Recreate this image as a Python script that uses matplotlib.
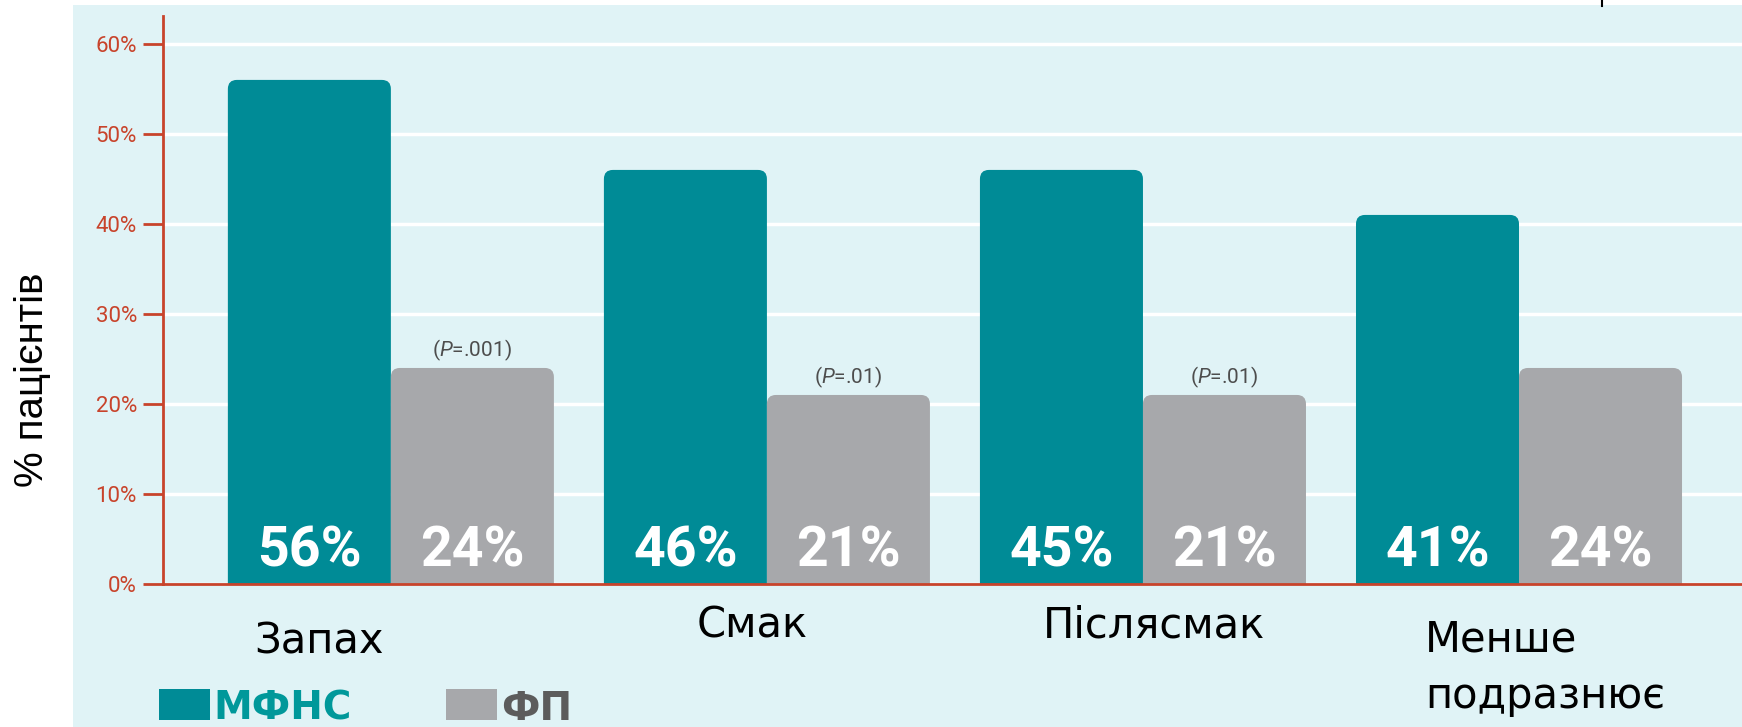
import matplotlib
matplotlib.use('Agg')
import matplotlib.pyplot as plt
from matplotlib.patches import FancyBboxPatch, Rectangle
from matplotlib.lines import Line2D
from matplotlib.transforms import blended_transform_factory
import numpy as np

plt.rcParams['mathtext.fontset'] = 'custom'
plt.rcParams['mathtext.rm'] = 'Roboto'
plt.rcParams['mathtext.it'] = 'Roboto:italic'

# data
categories = ["Запах", "Смак", "Післясмак", "Менше\nподразнює"]
mfns_vals = [56, 46, 46, 41]          # bar heights as drawn
fp_vals = [24, 21, 21, 24]
mfns_labels = ["56%", "46%", "45%", "41%"]   # printed values
fp_labels = ["24%", "21%", "21%", "24%"]
p_values = ["(P=.001)", "(P=.01)", "(P=.01)", None]
yticks = [0, 10, 20, 30, 40, 50, 60]
series_names = ["МФНС", "ФП"]

# colours
TEAL = '#008b96'
GRAY = '#a7a8ab'
BG = '#e0f3f6'
RED = '#c8432b'

W, H = 1742, 727
fig = plt.figure(figsize=(W / 100, H / 100), dpi=100, facecolor='white')

# light blue panel behind the chart
fig.patches.append(Rectangle((73 / W, 0), 1 - 73 / W, 1 - 5 / H, transform=fig.transFigure,
                             facecolor=BG, edgecolor='none', zorder=-1))
fig.add_artist(Line2D([1602 / W, 1602 / W], [1, 1 - 6 / H], transform=fig.transFigure,
                      color='black', lw=1.5))

ax = fig.add_axes([163 / W, (H - 584) / H, (W - 163) / W, 568 / H])
ax.set_facecolor('none')

x = np.arange(len(categories))
w = 163 / 376
b1 = ax.bar(x - w, mfns_vals, width=w, align='edge', color=TEAL)
b2 = ax.bar(x, fp_vals, width=w, align='edge', color=GRAY)

# swap the plain bars for ones with rounded tops
rad_x, rad_y = 9 / 376, 1.0
for rect in list(b1) + list(b2):
    rect.set_visible(False)
    rb = FancyBboxPatch((rect.get_x(), rect.get_y() - 2), rect.get_width(), rect.get_height() + 2,
                        boxstyle=f"round,pad=0,rounding_size={rad_x}",
                        mutation_aspect=rad_y / rad_x,
                        facecolor=rect.get_facecolor(), edgecolor='none', zorder=2)
    ax.add_patch(rb)

ax.set_xlim(-0.606, 3.593)
ax.set_ylim(0, 63.1)
ax.set_xticks([])
ax.set_yticks(yticks)
ax.set_yticklabels([f"{t}%" for t in yticks], family='Roboto')
ax.tick_params(axis='y', direction='out', length=14.4, width=2, color=RED,
               labelcolor=RED, labelsize=16, pad=4.3)
ax.yaxis.grid(True, color='white', lw=2.5)
ax.set_axisbelow(True)
for s in ['top', 'right']:
    ax.spines[s].set_visible(False)
for s in ['left', 'bottom']:
    ax.spines[s].set_color(RED)
    ax.spines[s].set_linewidth(2)

trans = blended_transform_factory(ax.transData, ax.transAxes)

# values inside bars
for i in range(len(categories)):
    ax.text(i - w / 2, 0.030, mfns_labels[i], transform=trans, ha='center', va='baseline',
            color='white', fontsize=40, fontweight='bold', family='Roboto', zorder=3)
    ax.text(i + w / 2, 0.030, fp_labels[i], transform=trans, ha='center', va='baseline',
            color='white', fontsize=40, fontweight='bold', family='Roboto', zorder=3)
    if p_values[i]:
        txt = p_values[i].replace("P", r"$\mathit{P}$")
        ax.text(i + w / 2, fp_vals[i] + 2.0, txt, ha='center', va='center',
                color='#4d4d4d', fontsize=15, family='Roboto', zorder=3)

# category labels (hand placed like the original)
label_dx = [-0.19, -0.04, 0.03, -0.25]
label_ha = ['center', 'center', 'center', 'left']
label_base = [653, 638, 638, 652]
for i, cat in enumerate(categories):
    for k, line in enumerate(cat.split("\n")):
        yb = (584 - (label_base[i] + 56 * k)) / 568
        ax.text(i + label_dx[i], yb, line, transform=trans, ha=label_ha[i], va='baseline',
                fontsize=30, family='DejaVu Sans', color='black', clip_on=False)

# y label
fig.text(32 / W, 1 - 380 / H, "% пацієнтів", rotation=90, ha='center', va='center',
         fontsize=29, family='Liberation Sans', color='black')

# legend
fig.patches.append(Rectangle((159 / W, 1 - 720 / H), 51 / W, 31 / H, transform=fig.transFigure,
                             facecolor=TEAL, edgecolor='none'))
fig.text(213 / W, 1 - 720 / H, series_names[0], ha='left', va='baseline', fontsize=28,
         fontweight='bold', family='DejaVu Sans', color='#00989a')
fig.patches.append(Rectangle((446 / W, 1 - 720 / H), 51 / W, 31 / H, transform=fig.transFigure,
                             facecolor=GRAY, edgecolor='none'))
fig.text(501 / W, 1 - 720 / H, series_names[1], ha='left', va='baseline', fontsize=28,
         fontweight='bold', family='DejaVu Sans', color='#5c5c5c')

fig.savefig('out.png', dpi=100, facecolor='white')
